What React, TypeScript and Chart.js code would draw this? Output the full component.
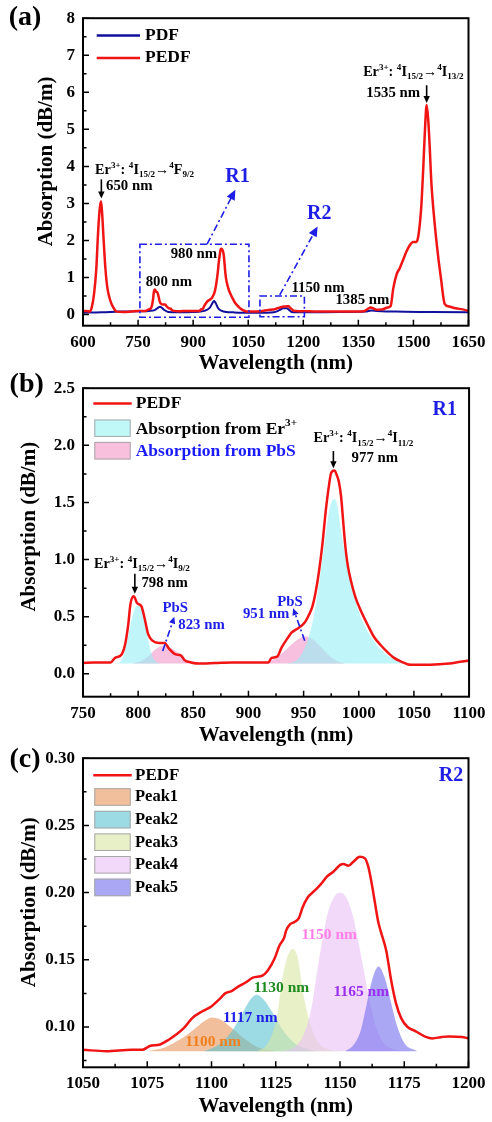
import React, { useEffect, useRef } from 'react';
import { Chart, registerables } from 'chart.js';

Chart.register(...registerables);

const SERIF = "'Liberation Serif', 'Times New Roman', Times, serif";
const RED = '#f01414';
const NAVY = '#10109c';
const BLUE = '#1e1ee6';

// ---------------- Panel (a) ----------------
const aPEDFWavelength = [600, 610, 618, 624, 630, 636, 641, 645, 649, 652, 656, 661, 666, 673, 682, 692, 710, 730, 750, 770, 779, 785, 788, 791, 793, 796, 799, 803, 806, 809, 813, 819, 824, 828, 834, 839, 842, 848, 860, 885, 918, 921, 926, 930, 936, 939, 945, 951, 955, 958, 961, 964, 967, 970, 973, 975, 978, 980, 982, 984, 986, 988, 990, 993, 997, 1002, 1008, 1014, 1020, 1026, 1032, 1038, 1047, 1065, 1082, 1092, 1100, 1105, 1110, 1116, 1120, 1125, 1128, 1131, 1134, 1137, 1142, 1147, 1151, 1153, 1155, 1158, 1160, 1162, 1164, 1167, 1170, 1172, 1174, 1176, 1180, 1185, 1192, 1200, 1230, 1280, 1330, 1365, 1375, 1384, 1392, 1400, 1415, 1430, 1438, 1445, 1454, 1463, 1472, 1481, 1490, 1499, 1508, 1513, 1518, 1522, 1527, 1531, 1536, 1540, 1544, 1549, 1557, 1567, 1576, 1581, 1585, 1597, 1615, 1634, 1650];
const aPEDFValues = [0.10, 0.10, 0.08, 0.20, 0.55, 1.20, 2.20, 2.80, 3.06, 2.75, 2.05, 1.25, 0.75, 0.42, 0.20, 0.08, 0.07, 0.08, 0.096, 0.10, 0.14, 0.17, 0.25, 0.43, 0.61, 0.68, 0.62, 0.59, 0.48, 0.35, 0.29, 0.27, 0.27, 0.22, 0.17, 0.16, 0.12, 0.10, 0.09, 0.10, 0.10, 0.14, 0.15, 0.23, 0.32, 0.36, 0.40, 0.45, 0.52, 0.59, 0.72, 0.90, 1.13, 1.42, 1.65, 1.76, 1.78, 1.74, 1.68, 1.55, 1.32, 1.10, 0.95, 0.81, 0.67, 0.55, 0.43, 0.32, 0.25, 0.19, 0.14, 0.11, 0.08, 0.08, 0.09, 0.105, 0.116, 0.125, 0.130, 0.137, 0.138, 0.152, 0.167, 0.177, 0.181, 0.196, 0.206, 0.216, 0.221, 0.220, 0.223, 0.227, 0.225, 0.208, 0.186, 0.160, 0.135, 0.118, 0.107, 0.100, 0.097, 0.092, 0.093, 0.092, 0.085, 0.080, 0.080, 0.090, 0.150, 0.190, 0.160, 0.130, 0.140, 0.190, 0.230, 0.700, 1.08, 1.26, 1.48, 1.70, 1.87, 1.96, 1.96, 2.10, 2.50, 3.00, 4.00, 4.90, 5.66, 5.30, 4.60, 3.54, 2.55, 1.60, 0.90, 0.50, 0.29, 0.22, 0.17, 0.14, 0.10];
const aPDFWavelength = [600, 650, 700, 750, 780, 795, 805, 810, 815, 822, 832, 860, 900, 930, 945, 952, 957, 962, 968, 978, 990, 1010, 1050, 1100, 1120, 1135, 1145, 1155, 1162, 1168, 1200, 1300, 1370, 1385, 1400, 1450, 1550, 1650];
const aPDFValues = [0.05, 0.06, 0.08, 0.09, 0.10, 0.12, 0.19, 0.21, 0.18, 0.12, 0.07, 0.06, 0.07, 0.10, 0.18, 0.30, 0.37, 0.30, 0.17, 0.10, 0.07, 0.06, 0.05, 0.05, 0.06, 0.12, 0.17, 0.17, 0.12, 0.07, 0.06, 0.07, 0.08, 0.11, 0.10, 0.08, 0.07, 0.06];
const aXTicks = [600, 750, 900, 1050, 1200, 1350, 1500, 1650];
const aXMinor = [675, 825, 975, 1125, 1275, 1425, 1575];
const aYTicks = [0, 1, 2, 3, 4, 5, 6, 7, 8];
const aYMinor = [0.5, 1.5, 2.5, 3.5, 4.5, 5.5, 6.5, 7.5];

// ---------------- Panel (b) ----------------
const bPEDFWavelength = [750, 760, 770, 775, 779, 785, 788, 791, 793, 796, 799, 803, 806, 809, 813, 819, 824, 828, 834, 839, 842, 848, 855, 870, 885, 900, 918, 921, 926, 930, 936, 939, 945, 951, 955, 958, 961, 964, 967, 970, 973, 975, 978, 980, 982, 984, 986, 988, 990, 993, 997, 1002, 1008, 1014, 1020, 1026, 1032, 1038, 1047, 1065, 1082, 1092, 1100];
const bPEDFValues = [0.096, 0.10, 0.10, 0.10, 0.14, 0.17, 0.25, 0.43, 0.61, 0.68, 0.62, 0.59, 0.48, 0.35, 0.29, 0.27, 0.27, 0.22, 0.17, 0.16, 0.12, 0.10, 0.09, 0.095, 0.10, 0.10, 0.10, 0.14, 0.15, 0.23, 0.32, 0.36, 0.40, 0.45, 0.52, 0.59, 0.72, 0.90, 1.13, 1.42, 1.65, 1.76, 1.78, 1.74, 1.68, 1.55, 1.32, 1.10, 0.95, 0.81, 0.67, 0.55, 0.43, 0.32, 0.25, 0.19, 0.14, 0.11, 0.08, 0.08, 0.09, 0.105, 0.116];
const bEr1Wavelength = [780, 785, 788, 791, 794, 797, 800, 803, 806, 809, 812, 815, 820];
const bEr1Values = [0.09, 0.12, 0.20, 0.33, 0.47, 0.57, 0.60, 0.56, 0.45, 0.30, 0.18, 0.12, 0.09];
const bEr2Wavelength = [935, 945, 952, 958, 963, 967, 970, 973, 976, 978, 981, 984, 987, 990, 994, 999, 1005, 1012, 1020, 1028, 1036, 1045];
const bEr2Values = [0.09, 0.13, 0.25, 0.45, 0.72, 1.00, 1.22, 1.42, 1.52, 1.53, 1.45, 1.25, 1.08, 0.92, 0.74, 0.57, 0.43, 0.31, 0.21, 0.15, 0.11, 0.09];
const bPbS1Wavelength = [795, 802, 808, 813, 818, 823, 828, 834, 840, 846, 852];
const bPbS1Values = [0.09, 0.11, 0.145, 0.19, 0.23, 0.245, 0.235, 0.20, 0.15, 0.11, 0.09];
const bPbS2Wavelength = [912, 920, 928, 935, 942, 948, 951, 955, 960, 966, 972, 979, 988];
const bPbS2Values = [0.09, 0.11, 0.16, 0.22, 0.28, 0.32, 0.33, 0.32, 0.29, 0.23, 0.17, 0.12, 0.09];
const bFillBase = 0.09;
const bXTicks = [750, 800, 850, 900, 950, 1000, 1050, 1100];
const bXMinor = [775, 825, 875, 925, 975, 1025, 1075];
const bYTicks = [0, 0.5, 1.0, 1.5, 2.0, 2.5];
const bYMinor = [0.25, 0.75, 1.25, 1.75, 2.25];

// ---------------- Panel (c) ----------------
const cPEDFWavelength = [1050, 1059, 1069, 1073, 1076, 1080, 1083.5, 1086, 1089.3, 1092.5, 1096.3, 1100.2, 1103.4, 1105.3, 1107.8, 1110.4, 1113.6, 1116.1, 1120, 1121.9, 1124.5, 1126.4, 1128.3, 1129, 1130.6, 1132.2, 1134, 1135.4, 1137.3, 1139.9, 1142.4, 1145, 1147.5, 1150.1, 1151.3, 1153.3, 1155.2, 1157.7, 1159.7, 1161, 1162.2, 1163.5, 1164.8, 1165.8, 1168, 1169.9, 1171.8, 1173.8, 1176.3, 1179.5, 1183.4, 1185.9, 1189.7, 1192.3, 1197.4, 1200];
const cPEDFValues = [0.083, 0.082, 0.083, 0.083, 0.0858, 0.087, 0.0907, 0.094, 0.0993, 0.1066, 0.1115, 0.1157, 0.1213, 0.125, 0.1267, 0.130, 0.1335, 0.1367, 0.1384, 0.142, 0.1507, 0.1605, 0.1666, 0.1715, 0.1765, 0.178, 0.181, 0.1887, 0.196, 0.201, 0.2059, 0.212, 0.2157, 0.2206, 0.2213, 0.220, 0.223, 0.2266, 0.2255, 0.2193, 0.2083, 0.1936, 0.1789, 0.1715, 0.1568, 0.1348, 0.1176, 0.1066, 0.100, 0.0968, 0.0926, 0.0915, 0.0926, 0.093, 0.0926, 0.0915];
const cPeak1Wavelength = [1075, 1082, 1088, 1093, 1097, 1100, 1104, 1108, 1113, 1118, 1125];
const cPeak1Values = [0.082, 0.085, 0.091, 0.098, 0.104, 0.107, 0.105, 0.099, 0.091, 0.085, 0.082];
const cPeak2Wavelength = [1097, 1103, 1108, 1112, 1115, 1117.5, 1120, 1124, 1128, 1133, 1140];
const cPeak2Values = [0.082, 0.087, 0.097, 0.110, 0.120, 0.124, 0.121, 0.110, 0.097, 0.087, 0.082];
const cPeak3Wavelength = [1118, 1122, 1125.5, 1127.5, 1129.5, 1131.5, 1133.5, 1135.5, 1138, 1141, 1146, 1150];
const cPeak3Values = [0.082, 0.088, 0.108, 0.135, 0.152, 0.158, 0.152, 0.127, 0.105, 0.090, 0.083, 0.082];
const cPeak4Wavelength = [1128, 1133, 1136, 1139, 1141, 1143, 1145, 1147.5, 1150, 1152.5, 1155, 1157, 1159, 1161.5, 1164, 1167, 1172, 1178];
const cPeak4Values = [0.082, 0.086, 0.095, 0.115, 0.140, 0.163, 0.183, 0.196, 0.200, 0.196, 0.183, 0.165, 0.145, 0.120, 0.100, 0.088, 0.083, 0.082];
const cPeak5Wavelength = [1152, 1155, 1158, 1160.5, 1162.5, 1165, 1167.5, 1169.5, 1172, 1175, 1180];
const cPeak5Values = [0.082, 0.086, 0.097, 0.118, 0.135, 0.145, 0.136, 0.121, 0.102, 0.088, 0.082];
const cFillBase = 0.082;
const cXTicks = [1050, 1075, 1100, 1125, 1150, 1175, 1200];
const cXMinor = [1062.5, 1087.5, 1112.5, 1137.5, 1162.5, 1187.5];
const cYTicks = [0.10, 0.15, 0.20, 0.25, 0.30];
const cYMinor = [0.075, 0.125, 0.175, 0.225, 0.275];
const cPeakNames = ['Peak1', 'Peak2', 'Peak3', 'Peak4', 'Peak5'];
const cPeakFills = ['rgba(233,148,90,0.6)', 'rgba(90,195,208,0.6)', 'rgba(217,230,163,0.6)', 'rgba(233,192,247,0.6)', 'rgba(113,110,238,0.6)'];
const cPeakBoxes = ['#f2bf9c', '#9cdbe3', '#e8f0c8', '#f2d9fa', '#aaa8f5'];

type Seg = { t: string; k?: 'sup' | 'sub' };
const erA650: Seg[] = [{ t: 'Er' }, { t: '3+', k: 'sup' }, { t: ': ' }, { t: '4', k: 'sup' }, { t: 'I' }, { t: '15/2', k: 'sub' }, { t: '\u2192' }, { t: '4', k: 'sup' }, { t: 'F' }, { t: '9/2', k: 'sub' }];
const erA1535: Seg[] = [{ t: 'Er' }, { t: '3+', k: 'sup' }, { t: ': ' }, { t: '4', k: 'sup' }, { t: 'I' }, { t: '15/2', k: 'sub' }, { t: '\u2192' }, { t: '4', k: 'sup' }, { t: 'I' }, { t: '13/2', k: 'sub' }];
const erB977: Seg[] = [{ t: 'Er' }, { t: '3+', k: 'sup' }, { t: ': ' }, { t: '4', k: 'sup' }, { t: 'I' }, { t: '15/2', k: 'sub' }, { t: '\u2192' }, { t: '4', k: 'sup' }, { t: 'I' }, { t: '11/2', k: 'sub' }];
const erB798: Seg[] = [{ t: 'Er' }, { t: '3+', k: 'sup' }, { t: ': ' }, { t: '4', k: 'sup' }, { t: 'I' }, { t: '15/2', k: 'sub' }, { t: '\u2192' }, { t: '4', k: 'sup' }, { t: 'I' }, { t: '9/2', k: 'sub' }];

const pts = (xs: number[], ys: number[]) => xs.map((x, i) => ({ x, y: ys[i] }));

// ---------- drawing helpers ----------
const X = (c: any, v: number) => c.scales.x.getPixelForValue(v);
const Y = (c: any, v: number) => c.scales.y.getPixelForValue(v);

function txt(ctx: CanvasRenderingContext2D, s: string, x: number, y: number, size: number, color: string, align: CanvasTextAlign = 'left') {
  ctx.save();
  ctx.font = `bold ${size}px ${SERIF}`;
  ctx.fillStyle = color;
  ctx.textAlign = align;
  ctx.textBaseline = 'middle';
  ctx.fillText(s, x, y);
  ctx.restore();
}

function rich(ctx: CanvasRenderingContext2D, segs: Seg[], x: number, y: number, size: number, color: string) {
  const small = size * 0.64;
  ctx.save();
  ctx.fillStyle = color;
  ctx.textAlign = 'left';
  ctx.textBaseline = 'middle';
  let cx = x;
  for (const s of segs) {
    ctx.font = `bold ${s.k ? small : size}px ${SERIF}`;
    const dy = s.k === 'sup' ? -size * 0.34 : s.k === 'sub' ? size * 0.34 : 0;
    ctx.fillText(s.t, cx, y + dy);
    cx += ctx.measureText(s.t).width;
  }
  ctx.restore();
}

function arrow(ctx: CanvasRenderingContext2D, x1: number, y1: number, x2: number, y2: number, color: string, dash: number[] | null, head: number, hw: number) {
  const a = Math.atan2(y2 - y1, x2 - x1);
  const cs = Math.cos(a), sn = Math.sin(a);
  ctx.save();
  ctx.strokeStyle = color;
  ctx.fillStyle = color;
  ctx.lineWidth = 1.6;
  if (dash) ctx.setLineDash(dash);
  ctx.beginPath();
  ctx.moveTo(x1, y1);
  ctx.lineTo(x2 - head * cs * 0.8, y2 - head * sn * 0.8);
  ctx.stroke();
  ctx.setLineDash([]);
  ctx.beginPath();
  ctx.moveTo(x2, y2);
  ctx.lineTo(x2 - head * cs + hw * sn, y2 - head * sn - hw * cs);
  ctx.lineTo(x2 - head * cs - hw * sn, y2 - head * sn + hw * cs);
  ctx.closePath();
  ctx.fill();
  ctx.restore();
}

const DASHDOT = [7, 3, 2, 3];

function dashRect(ctx: CanvasRenderingContext2D, x1: number, y1: number, x2: number, y2: number, color: string) {
  ctx.save();
  ctx.strokeStyle = color;
  ctx.lineWidth = 1.6;
  ctx.setLineDash(DASHDOT);
  ctx.strokeRect(x1, y1, x2 - x1, y2 - y1);
  ctx.restore();
}

function legendLine(ctx: CanvasRenderingContext2D, x1: number, x2: number, y: number, color: string) {
  ctx.save();
  ctx.strokeStyle = color;
  ctx.lineWidth = 2.5;
  ctx.beginPath();
  ctx.moveTo(x1, y);
  ctx.lineTo(x2, y);
  ctx.stroke();
  ctx.restore();
}

function legendBox(ctx: CanvasRenderingContext2D, x1: number, y1: number, x2: number, y2: number, color: string) {
  ctx.save();
  ctx.fillStyle = color;
  ctx.fillRect(x1, y1, x2 - x1, y2 - y1);
  ctx.strokeStyle = '#a8a8a8';
  ctx.lineWidth = 1;
  ctx.strokeRect(x1 + 0.5, y1 + 0.5, x2 - x1 - 1, y2 - y1 - 1);
  ctx.restore();
}

function framePlugin(xMajor: number[], xMinor: number[], yMajor: number[], yMinor: number[]) {
  return {
    id: 'frameTicks',
    afterDatasetsDraw(chart: any) {
      const { ctx, chartArea } = chart;
      const { left, right, top, bottom } = chartArea;
      ctx.save();
      ctx.strokeStyle = '#000';
      ctx.lineWidth = 1.5;
      ctx.beginPath();
      for (const v of xMajor) { const p = X(chart, v); ctx.moveTo(p, bottom); ctx.lineTo(p, bottom - 6); }
      for (const v of xMinor) { const p = X(chart, v); ctx.moveTo(p, bottom); ctx.lineTo(p, bottom - 3.5); }
      for (const v of yMajor) { const p = Y(chart, v); ctx.moveTo(left, p); ctx.lineTo(left + 6, p); }
      for (const v of yMinor) { const p = Y(chart, v); ctx.moveTo(left, p); ctx.lineTo(left + 3.5, p); }
      ctx.stroke();
      ctx.lineWidth = 2;
      ctx.strokeRect(left, top, right - left, bottom - top);
      ctx.restore();
    },
  };
}

function decorPlugin(draw: (chart: any, ctx: CanvasRenderingContext2D) => void) {
  return { id: 'decor', afterDraw(chart: any) { draw(chart, chart.ctx); } };
}

type OptP = {
  xMin: number; xMax: number; yMin: number; yMax: number;
  xTicks: number[]; yTicks: number[]; yDec: number;
  padTop: number; xAxisH: number; xTickPad: number; xTitlePad: number; yTitlePad: number; yTitle: string;
};

function buildOptions(p: OptP): any {
  const tickFont = { family: SERIF, size: 17, weight: 'bold' };
  const titleFont = { family: SERIF, size: 21, weight: 'bold', lineHeight: 1.2 };
  return {
    responsive: false,
    maintainAspectRatio: false,
    animation: false,
    devicePixelRatio: 1,
    layout: { padding: { left: 0, right: 19, top: p.padTop, bottom: 0 } },
    plugins: { legend: { display: false }, tooltip: { enabled: false } },
    elements: { point: { radius: 0 } },
    scales: {
      x: {
        type: 'linear',
        min: p.xMin,
        max: p.xMax,
        afterBuildTicks: (s: any) => { s.ticks = p.xTicks.map((v) => ({ value: v })); },
        afterFit: (s: any) => { s.height = p.xAxisH; },
        grid: { display: false, drawTicks: false },
        border: { display: false },
        ticks: { padding: p.xTickPad, color: '#000', font: tickFont, maxRotation: 0, autoSkip: false, callback: (v: any) => String(v) },
        title: { display: true, text: 'Wavelength (nm)', color: '#000', font: titleFont, padding: { top: 0, bottom: p.xTitlePad } },
      },
      y: {
        type: 'linear',
        min: p.yMin,
        max: p.yMax,
        afterBuildTicks: (s: any) => { s.ticks = p.yTicks.map((v) => ({ value: v })); },
        afterFit: (s: any) => { s.width = 83; },
        grid: { display: false, drawTicks: false },
        border: { display: false },
        ticks: { padding: 8, color: '#000', font: tickFont, autoSkip: false, callback: (v: any) => Number(v).toFixed(p.yDec) },
        title: { display: true, text: p.yTitle, color: '#000', font: titleFont, padding: { top: p.yTitlePad, bottom: 0 } },
      },
    },
  };
}

const lineDs = (xs: number[], ys: number[], color: string, w: number) => ({
  data: pts(xs, ys), borderColor: color, borderWidth: w, fill: false, pointRadius: 0, cubicInterpolationMode: 'monotone',
});
const fillDs = (xs: number[], ys: number[], color: string, base: number) => ({
  data: pts(xs, ys), borderColor: 'rgba(0,0,0,0)', borderWidth: 0, backgroundColor: color, fill: { value: base }, pointRadius: 0, cubicInterpolationMode: 'monotone',
});

const ER_SIZE = 14.2;

function buildA(): any {
  return {
    type: 'line',
    data: { datasets: [lineDs(aPEDFWavelength, aPEDFValues, RED, 2.5), lineDs(aPDFWavelength, aPDFValues, NAVY, 2)] },
    options: buildOptions({ xMin: 600, xMax: 1650, yMin: -0.3, yMax: 8, xTicks: aXTicks, yTicks: aYTicks, yDec: 0, padTop: 12, xAxisH: 54.3, xTickPad: 6.5, xTitlePad: 3.4, yTitlePad: 34.4, yTitle: '\u00a0\u00a0\u00a0\u00a0Absorption (dB/m)' }),
    plugins: [
      framePlugin(aXTicks, aXMinor, aYTicks, aYMinor),
      decorPlugin((c, ctx) => {
        const t = c.chartArea.top;
        txt(ctx, '(a)', 25, 18, 28, '#000', 'center');
        legendLine(ctx, 96.7, 140, t + 17.3, NAVY);
        txt(ctx, 'PDF', 145, t + 17.3, 17.5, '#000');
        legendLine(ctx, 96.7, 140, t + 39.7, RED);
        txt(ctx, 'PEDF', 145, t + 39.7, 17.5, '#000');
        rich(ctx, erA650, X(c, 633), Y(c, 3.9), ER_SIZE, '#000');
        arrow(ctx, X(c, 650), Y(c, 3.65), X(c, 650), Y(c, 3.13), '#000', null, 7, 3.2);
        txt(ctx, '650 nm', X(c, 662.7), Y(c, 3.47), 14.8, '#000');
        txt(ctx, '800 nm', X(c, 834), Y(c, 0.88), 14.8, '#000', 'center');
        txt(ctx, '980 nm', X(c, 902), Y(c, 1.62), 14.8, '#000', 'center');
        txt(ctx, '1150 nm', X(c, 1240), Y(c, 0.72), 14.8, '#000', 'center');
        txt(ctx, '1385 nm', X(c, 1361), Y(c, 0.40), 14.8, '#000', 'center');
        rich(ctx, erA1535, X(c, 1363), Y(c, 6.54), ER_SIZE, '#000');
        txt(ctx, '1535 nm', X(c, 1445), Y(c, 5.97), 14.8, '#000', 'center');
        arrow(ctx, X(c, 1536), Y(c, 6.19), X(c, 1536), Y(c, 5.71), '#000', null, 7, 3.2);
        dashRect(ctx, X(c, 755), Y(c, 1.9), X(c, 1052), Y(c, -0.07), BLUE);
        arrow(ctx, X(c, 938), Y(c, 1.9), X(c, 1015), Y(c, 3.37), BLUE, DASHDOT, 10, 4.5);
        txt(ctx, 'R1', X(c, 1021), Y(c, 3.72), 20, BLUE, 'center');
        dashRect(ctx, X(c, 1082), Y(c, 0.5), X(c, 1203), Y(c, -0.06), BLUE);
        arrow(ctx, X(c, 1136), Y(c, 0.53), X(c, 1239), Y(c, 2.38), BLUE, DASHDOT, 10, 4.5);
        txt(ctx, 'R2', X(c, 1243.5), Y(c, 2.71), 20, BLUE, 'center');
      }),
    ],
  };
}

function buildB(): any {
  return {
    type: 'line',
    data: {
      datasets: [
        lineDs(bPEDFWavelength, bPEDFValues, RED, 2.5),
        fillDs(bEr1Wavelength, bEr1Values, 'rgba(150,240,245,0.6)', bFillBase),
        fillDs(bEr2Wavelength, bEr2Values, 'rgba(150,240,245,0.6)', bFillBase),
        fillDs(bPbS1Wavelength, bPbS1Values, 'rgba(240,150,200,0.6)', bFillBase),
        fillDs(bPbS2Wavelength, bPbS2Values, 'rgba(240,150,200,0.6)', bFillBase),
      ],
    },
    options: buildOptions({ xMin: 750, xMax: 1100, yMin: -0.2, yMax: 2.5, xTicks: bXTicks, yTicks: bYTicks, yDec: 1, padTop: 13, xAxisH: 53.3, xTickPad: 6.4, xTitlePad: 1.9, yTitlePad: 17.4, yTitle: '\u00a0\u00a0\u00a0\u00a0\u00a0\u00a0Absorption (dB/m)' }),
    plugins: [
      framePlugin(bXTicks, bXMinor, bYTicks, bYMinor),
      decorPlugin((c, ctx) => {
        const t = c.chartArea.top;
        txt(ctx, '(b)', 26.7, 15, 28, '#000', 'center');
        legendLine(ctx, 93.3, 131.7, t + 15.3, RED);
        txt(ctx, 'PEDF', 135.7, t + 15.3, 17.5, '#000');
        legendBox(ctx, 94.3, t + 31.3, 130.7, t + 48.7, '#c0f8f8');
        rich(ctx, [{ t: 'Absorption from Er' }, { t: '3+', k: 'sup' }], 135.7, t + 41.3, 17.5, '#000');
        legendBox(ctx, 94.3, t + 53.7, 130.7, t + 71.3, '#f8c0dc');
        txt(ctx, 'Absorption from PbS', 135.7, t + 63.7, 17.5, '#1a1aff');
        txt(ctx, 'R1', X(c, 1078), Y(c, 2.31), 20, BLUE, 'center');
        rich(ctx, erB977, X(c, 959), Y(c, 2.06), ER_SIZE, '#000');
        arrow(ctx, X(c, 977), Y(c, 1.95), X(c, 977), Y(c, 1.80), '#000', null, 7, 3.2);
        txt(ctx, '977 nm', X(c, 993.5), Y(c, 1.89), 14.8, '#000');
        rich(ctx, erB798, X(c, 760), Y(c, 0.96), ER_SIZE, '#000');
        arrow(ctx, X(c, 797), Y(c, 0.876), X(c, 797), Y(c, 0.70), '#000', null, 7, 3.2);
        txt(ctx, '798 nm', X(c, 803), Y(c, 0.79), 14.8, '#000');
        txt(ctx, 'PbS', X(c, 833.7), Y(c, 0.575), 14.8, BLUE, 'center');
        txt(ctx, '823 nm', X(c, 836.4), Y(c, 0.43), 14.8, BLUE);
        arrow(ctx, X(c, 822.3), Y(c, 0.20), X(c, 832.8), Y(c, 0.50), BLUE, DASHDOT, 7, 3.2);
        txt(ctx, 'PbS', X(c, 937.6), Y(c, 0.63), 14.8, BLUE, 'center');
        txt(ctx, '951 nm', X(c, 916), Y(c, 0.52), 14.8, BLUE, 'center');
        arrow(ctx, X(c, 951), Y(c, 0.29), X(c, 940.5), Y(c, 0.575), BLUE, DASHDOT, 7, 3.2);
      }),
    ],
  };
}

function buildC(): any {
  const peaksX = [cPeak1Wavelength, cPeak2Wavelength, cPeak3Wavelength, cPeak4Wavelength, cPeak5Wavelength];
  const peaksY = [cPeak1Values, cPeak2Values, cPeak3Values, cPeak4Values, cPeak5Values];
  const fills = [4, 3, 2, 1, 0].map((i) => fillDs(peaksX[i], peaksY[i], cPeakFills[i], cFillBase));
  return {
    type: 'line',
    data: { datasets: [lineDs(cPEDFWavelength, cPEDFValues, RED, 2.5), ...fills] },
    options: buildOptions({ xMin: 1050, xMax: 1200, yMin: 0.07, yMax: 0.30, xTicks: cXTicks, yTicks: cYTicks, yDec: 2, padTop: 14, xAxisH: 54.7, xTickPad: 6.5, xTitlePad: 2.7, yTitlePad: 17.4, yTitle: '\u00a0\u00a0\u00a0\u00a0Absorption (dB/m)' }),
    plugins: [
      framePlugin(cXTicks, cXMinor, cYTicks, cYMinor),
      decorPlugin((c, ctx) => {
        const t = c.chartArea.top;
        txt(ctx, '(c)', 25, 20, 28, '#000', 'center');
        legendLine(ctx, 93.3, 131.7, t + 17, RED);
        txt(ctx, 'PEDF', 135, t + 17, 17, '#000');
        cPeakNames.forEach((name, i) => {
          const y0 = t + 30 + i * 22.6;
          legendBox(ctx, 94.3, y0, 130.7, y0 + 17.6, cPeakBoxes[i]);
          txt(ctx, name, 135, y0 + 9, 16.5, '#000');
        });
        txt(ctx, 'R2', X(c, 1193.2), Y(c, 0.2866), 20, BLUE, 'center');
        txt(ctx, '1150 nm', X(c, 1145.8), Y(c, 0.1684), 15.5, '#ff80e6', 'center');
        txt(ctx, '1130 nm', X(c, 1127.2), Y(c, 0.1287), 15.5, '#1f8a1f', 'center');
        txt(ctx, '1117 nm', X(c, 1115.1), Y(c, 0.1067), 15.5, '#1e1ee6', 'center');
        txt(ctx, '1100 nm', X(c, 1100.6), Y(c, 0.0888), 15.5, '#f0801e', 'center');
        txt(ctx, '1165 nm', X(c, 1158.3), Y(c, 0.1262), 15.5, '#9a2ff0', 'center');
      }),
    ],
  };
}

function Panel({ top, height, build }: { top: number; height: number; build: () => any }) {
  const ref = useRef<HTMLCanvasElement | null>(null);
  useEffect(() => {
    if (!ref.current) return;
    const chart = new Chart(ref.current, build());
    return () => chart.destroy();
  }, [build]);
  return (
    <canvas
      ref={ref}
      width={492}
      height={height}
      style={{ position: 'absolute', left: 0, top, width: 492, height, display: 'block' }}
    />
  );
}

export default function App() {
  return (
    <div style={{ position: 'absolute', left: 0, top: 0, width: 492, height: 1122, background: '#fff', overflow: 'hidden' }}>
      <Panel top={0} height={380} build={buildA} />
      <Panel top={370} height={380} build={buildB} />
      <Panel top={740} height={382} build={buildC} />
    </div>
  );
}
